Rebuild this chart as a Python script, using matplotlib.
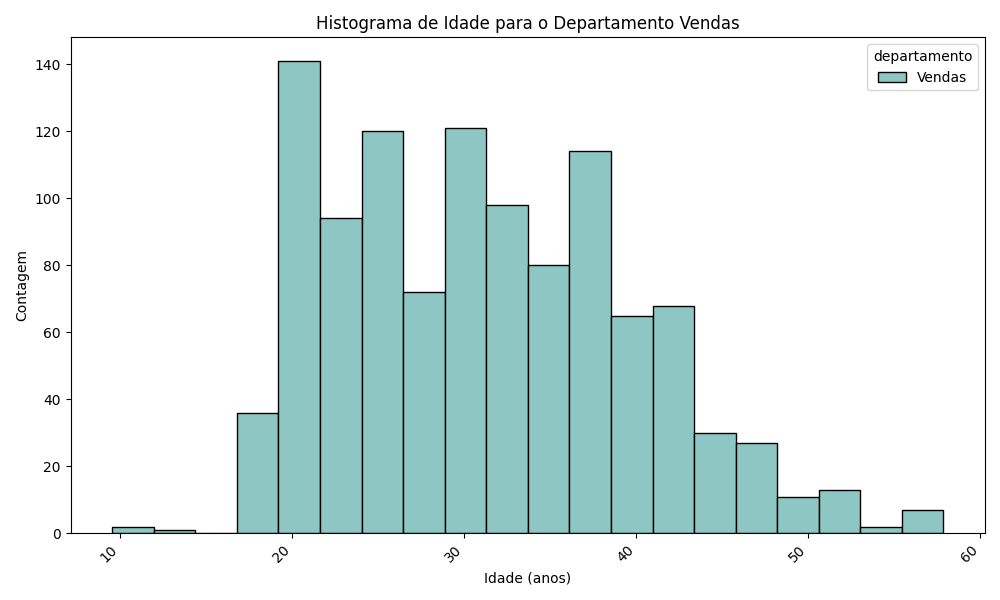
import numpy as np
import matplotlib.pyplot as plt

# histogram bins
bin_start = 9.53
bin_width = 2.416
counts = [2, 1, 0, 36, 141, 94, 120, 72, 121, 98, 80, 114, 65, 68, 30, 27, 11, 13, 2, 7]
edges = bin_start + bin_width * np.arange(len(counts) + 1)

fig, ax = plt.subplots(figsize=(10, 6))
ax.bar(edges[:-1], counts, width=bin_width, align='edge', color='#8ec6c3',
       edgecolor='black', linewidth=1, label='Vendas')
ax.set_title('Histograma de Idade para o Departamento Vendas')
ax.set_xlabel('Idade (anos)')
ax.set_ylabel('Contagem')
ax.set_xticks([10, 20, 30, 40, 50, 60])
plt.setp(ax.get_xticklabels(), rotation=45, ha='right')
ax.legend(title='departamento')
plt.tight_layout()
plt.savefig('out.png', dpi=100)
